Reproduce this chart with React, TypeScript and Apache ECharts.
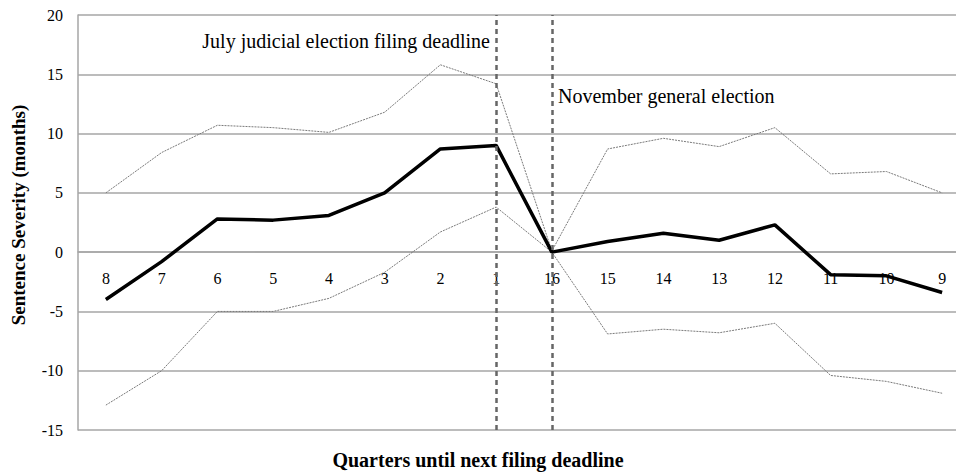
import React, { useEffect, useRef } from "react";
import * as echarts from "echarts";

const categories = ["8", "7", "6", "5", "4", "3", "2", "1", "16", "15", "14", "13", "12", "11", "10", "9"];
const meanValues = [-4.0, -0.8, 2.8, 2.7, 3.1, 5.0, 8.7, 9.0, 0.0, 0.9, 1.6, 1.0, 2.3, -1.9, -2.0, -3.4];
const upperValues = [5.0, 8.4, 10.7, 10.5, 10.1, 11.8, 15.8, 14.2, 0.1, 8.7, 9.6, 8.9, 10.5, 6.6, 6.8, 5.0];
const lowerValues = [-12.9, -10.0, -5.0, -5.0, -3.9, -1.7, 1.7, 3.8, 0.0, -6.9, -6.5, -6.8, -6.0, -10.4, -10.9, -11.9];
const yTicks = { min: -15, max: 20, interval: 5 };
const deadlineCategories = ["1", "16"];
const annotationJuly = "July judicial election filing deadline";
const annotationNov = "November general election";
const xTitle = "Quarters until next filing deadline";
const yTitle = "Sentence Severity (months)";

const FONT = "Liberation Serif";

export default function App() {
  const ref = useRef<HTMLDivElement>(null);
  useEffect(() => {
    if (!ref.current) return;
    const chart = echarts.init(ref.current, undefined, { renderer: "svg" });
    const grey = "#a6a6a6";
    const txt = (size: number, weight: string = "normal") => ({
      fill: "#000",
      fontSize: size,
      fontFamily: FONT,
      fontWeight: weight,
    });
    chart.setOption({
      animation: false,
      backgroundColor: "#ffffff",
      textStyle: { fontFamily: FONT },
      grid: { left: 78, top: 15, right: 0, bottom: 42, containLabel: false },
      xAxis: {
        type: "category",
        data: categories,
        boundaryGap: true,
        position: "bottom",
        offset: 0,
        axisLine: { show: true, onZero: false, lineStyle: { color: grey, width: 1.5 } },
        axisTick: { show: false },
        axisLabel: { color: "#000", fontSize: 16, fontFamily: FONT, margin: 18, interval: 0 },
        splitLine: { show: false },
      },
      yAxis: {
        type: "value",
        min: yTicks.min,
        max: yTicks.max,
        interval: yTicks.interval,
        axisLine: { show: true, lineStyle: { color: grey, width: 1.5 } },
        axisTick: { show: false },
        axisLabel: { color: "#000", fontSize: 16, fontFamily: FONT, margin: 15 },
        splitLine: { show: true, lineStyle: { color: grey, width: 1.5 } },
      },
      series: [
        {
          type: "line",
          data: upperValues,
          showSymbol: false,
          lineStyle: { color: "#7a7a7a", width: 1, type: [2, 1] },
          z: 2,
        },
        {
          type: "line",
          data: lowerValues,
          showSymbol: false,
          lineStyle: { color: "#7a7a7a", width: 1, type: [2, 1] },
          z: 2,
        },
        {
          type: "line",
          data: meanValues,
          showSymbol: false,
          lineStyle: { color: "#000", width: 3.5 },
          z: 3,
          markLine: {
            silent: true,
            symbol: "none",
            label: { show: false },
            lineStyle: { color: "#666", width: 2.5, type: [5, 4] },
            data: deadlineCategories.map((c) => ({ xAxis: categories.indexOf(c) })),
          },
        },
      ],
      graphic: [
        {
          type: "text",
          x: 490,
          y: 41,
          style: { ...txt(20), text: annotationJuly, textAlign: "right", textVerticalAlign: "middle" },
        },
        {
          type: "text",
          x: 558,
          y: 96,
          style: { ...txt(20), text: annotationNov, textAlign: "left", textVerticalAlign: "middle" },
        },
        {
          type: "text",
          x: 478,
          y: 460,
          style: { ...txt(20, "bold"), text: xTitle, textAlign: "center", textVerticalAlign: "middle" },
        },
        {
          type: "text",
          x: 18,
          y: 215,
          rotation: Math.PI / 2,
          style: { ...txt(19, "bold"), text: yTitle, textAlign: "center", textVerticalAlign: "middle" },
        },
      ],
    });
    // place the category axis where the value axis crosses zero (Excel "axis crosses at 0")
    const zeroY = chart.convertToPixel({ yAxisIndex: 0 }, 0) as number;
    const bottomY = chart.convertToPixel({ yAxisIndex: 0 }, yTicks.min) as number;
    chart.setOption({ xAxis: { offset: zeroY - bottomY } });
    return () => chart.dispose();
  }, []);
  return (
    <div style={{ position: "absolute", left: 0, top: 0, width: 956, height: 472, overflow: "hidden" }}>
      <div ref={ref} style={{ width: 970, height: 472 }} />
    </div>
  );
}
